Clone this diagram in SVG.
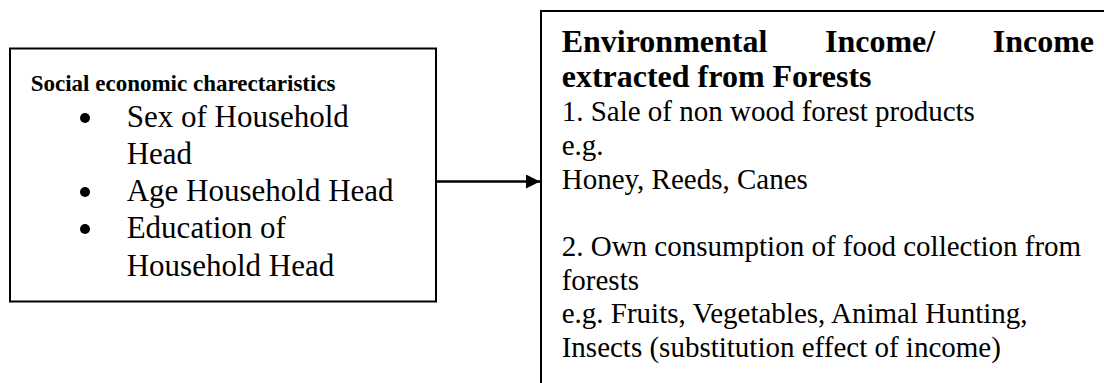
<svg xmlns="http://www.w3.org/2000/svg" width="1104" height="383" viewBox="0 0 1104 383">
  <defs>
    <style>
      .box { fill: #ffffff; stroke: #000000; stroke-width: 2; }
      .conn { stroke: #000000; stroke-width: 2.5; fill: none; }
      .hdr { font-family: "Liberation Serif", "Times New Roman", serif; font-weight: bold; font-size: 23px; fill: #000; }
      .big { font-family: "Liberation Serif", "Times New Roman", serif; font-size: 31px; fill: #000; }
      .title { font-family: "Liberation Serif", "Times New Roman", serif; font-weight: bold; font-size: 32px; fill: #000; }
      .body { font-family: "Liberation Serif", "Times New Roman", serif; font-size: 29px; fill: #000; }
      .dot { fill: #000; }
    </style>
    <marker id="arrow" viewBox="0 0 14 14" refX="14" refY="7" markerWidth="14" markerHeight="14" markerUnits="userSpaceOnUse" orient="auto">
      <path d="M0,0 L14,7 L0,14 Z" fill="#000"/>
    </marker>
  </defs>
  <rect x="0" y="0" width="1104" height="383" fill="#ffffff"/>

  <g id="node-socio">
    <rect class="box" x="10" y="48.5" width="426" height="253"/>
    <text class="hdr" x="30.7" y="90.7">Social economic charectaristics</text>
    <circle class="dot" cx="85" cy="118" r="5"/>
    <text class="big" x="126.7" y="127">Sex of Household</text>
    <text class="big" x="126.7" y="164">Head</text>
    <circle class="dot" cx="85" cy="192" r="5"/>
    <text class="big" x="126.7" y="201">Age Household Head</text>
    <circle class="dot" cx="85" cy="229" r="5"/>
    <text class="big" x="126.7" y="238">Education of</text>
    <text class="big" x="126.7" y="276">Household Head</text>
  </g>

  <g id="node-income">
    <path class="box" d="M1110,11 H541 V390"/>
    <text class="title" x="561.7" y="52">Environmental</text>
    <text class="title" x="825" y="52">Income/</text>
    <text class="title" x="992.7" y="52">Income</text>
    <text class="title" x="561.7" y="87">extracted from Forests</text>
    <text class="body" x="561.7" y="121">1. Sale of non wood forest products</text>
    <text class="body" x="561.7" y="155">e.g.</text>
    <text class="body" x="561.7" y="189">Honey, Reeds, Canes</text>
    <text class="body" x="561.7" y="256">2. Own consumption of food collection from</text>
    <text class="body" x="561.7" y="290">forests</text>
    <text class="body" x="561.7" y="323">e.g. Fruits, Vegetables, Animal Hunting,</text>
    <text class="body" x="561.7" y="357">Insects (substitution effect of income)</text>
  </g>

  <g id="connectors">
    <line class="conn" x1="436" y1="181.5" x2="540" y2="181.5" marker-end="url(#arrow)"/>
  </g>
</svg>
